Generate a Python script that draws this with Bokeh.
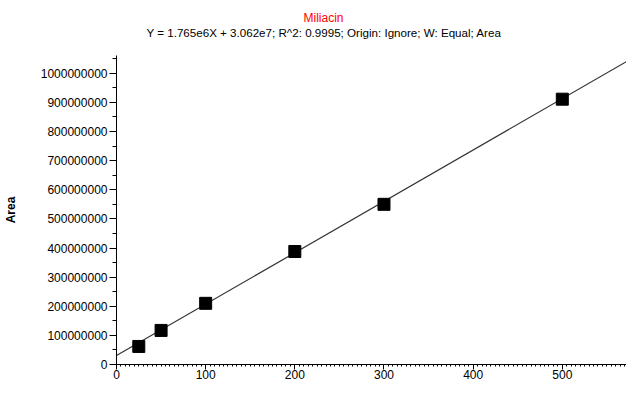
from bokeh.plotting import figure
from bokeh.models import (Range1d, SingleIntervalTicker, NumeralTickFormatter,
                          Title)
from bokeh.embed import file_html
from bokeh.resources import INLINE

# Data
amounts = [25, 50, 100, 200, 300, 500]
areas = [6.2e7, 1.17e8, 2.1e8, 3.88e8, 5.5e8, 9.11e8]
slope = 1.765e6
intercept = 3.062e7
fit_x = [0, 584]
fit_y = [slope * v + intercept for v in fit_x]
title_text = "Miliacin"
subtitle_text = "Y = 1.765e6X + 3.062e7; R^2: 0.9995; Origin: Ignore; W: Equal; Area"
y_label = "Area"

FONT = "Liberation Sans"

p = figure(width=626, height=381, output_backend="svg", toolbar_location=None,
           x_range=Range1d(0, 572), y_range=Range1d(0, 1.061e9),
           min_border_left=109, min_border_right=0, min_border_bottom=0,
           min_border_top=55)
p.title = None
p.outline_line_color = None
p.background_fill_color = "white"
p.border_fill_color = "white"
p.grid.visible = False

p.add_layout(Title(text=subtitle_text, align="left", offset=30,
                   vertical_align="top",
                   text_font=FONT, text_font_size="11.6px", text_font_style="normal",
                   text_color="black", standoff=30), "above")
p.add_layout(Title(text=title_text, align="left", offset=187,
                   text_font=FONT, text_font_size="12px", text_font_style="normal",
                   text_color="red", standoff=-28), "above")

# x axis
xa = p.xaxis[0]
xa.ticker = SingleIntervalTicker(interval=100, num_minor_ticks=20)
xa.major_tick_in = 0
xa.major_tick_out = 5
xa.minor_tick_in = 0
xa.minor_tick_out = 2
xa.major_label_standoff = 0
xa.major_label_text_font = FONT
xa.major_label_text_font_size = "12px"
xa.major_label_text_color = "black"
xa.axis_line_color = "black"
xa.major_tick_line_color = "black"
xa.minor_tick_line_color = "black"

# y axis
ya = p.yaxis[0]
ya.ticker = SingleIntervalTicker(interval=1e8, num_minor_ticks=2)
ya.formatter = NumeralTickFormatter(format="0")
ya.major_tick_in = 0
ya.major_tick_out = 7
ya.minor_tick_in = 0
ya.minor_tick_out = 4
ya.major_label_standoff = 2
ya.major_label_text_font = FONT
ya.major_label_text_font_size = "12px"
ya.major_label_text_color = "black"
ya.axis_label = y_label
ya.axis_label_text_font = FONT
ya.axis_label_text_font_size = "12px"
ya.axis_label_text_font_style = "bold"
ya.axis_label_text_color = "black"
ya.axis_label_standoff = 20
ya.axis_line_color = "black"

p.line(fit_x, fit_y, line_color="#333333", line_width=1.2)
p.scatter(amounts, areas, marker="square", size=12, fill_color="black",
          line_color="black")

open("out.html", "w").write(file_html(p, INLINE))
